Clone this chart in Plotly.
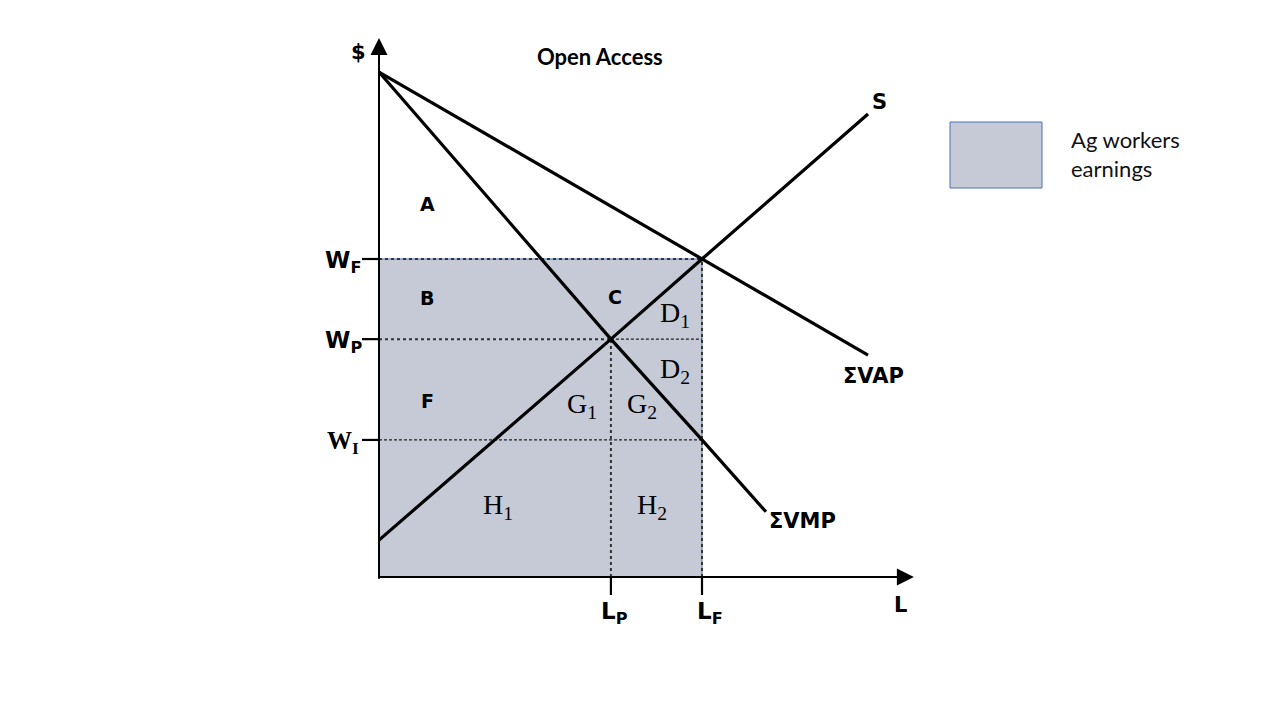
import plotly.graph_objects as go

# ---- data (economic units) ----
L_P, L_F = 7.18, 10.0
W_F, W_P, W_I = 10.0, 7.48, 4.31
X_AXIS_END, Y_AXIS_END = 16.56, 16.95

vap_x = [0.0, L_F, 15.14]
vap_y = [15.88, W_F, 6.98]
vmp_x = [0.0, L_P, L_F, 11.98]
vmp_y = [15.88, W_P, W_I, 2.05]
s_x = [0.0, L_P, L_F, 15.14]
s_y = [1.16, W_P, W_F, 14.56]

region_labels = ["A", "B", "C", "F"]
region_x = [1.49, 1.49, 7.31, 1.49]
region_y = [11.73, 8.77, 8.81, 5.53]

sub_labels = ["D<sub>1</sub>", "D<sub>2</sub>", "G<sub>1</sub>", "G<sub>2</sub>", "H<sub>1</sub>", "H<sub>2</sub>"]
sub_x = [9.16, 9.16, 6.28, 8.14, 3.68, 8.45]
sub_y = [8.24, 6.48, 5.38, 5.38, 2.23, 2.23]

curve_labels = ["S", "ΣVAP", "ΣVMP"]
curve_lx = [15.51, 15.32, 13.1]
curve_ly = [14.94, 6.32, 1.76]

legend_text = "Ag workers<br>earnings"
title_text = "Open Access"

# ---- figure ----
SX, SY = 32.3, 31.8   # px per unit
PAD = 8               # page body margin
OX, OY = 379 - PAD, 577 - PAD   # origin in figure px
fig = go.Figure()

FILL = "#c5cad6"
EDGE = "#4a74b5"

# shaded earnings rectangle
fig.add_shape(type="rect", x0=0, x1=L_F, y0=0, y1=W_F, fillcolor=FILL,
              line=dict(color=EDGE, width=1), layer="below")

def seg(xs, ys, width=3, dash="solid", color="black"):
    fig.add_trace(go.Scatter(x=xs, y=ys, mode="lines", hoverinfo="skip",
                             line=dict(color=color, width=width, dash=dash),
                             showlegend=False))

# guide lines
seg([0, L_F], [W_F, W_F], width=2, dash="dot", color="#333")
seg([0, L_P], [W_P, W_P], width=2, dash="dot", color="#333")
seg([L_P, L_F], [W_P, W_P], width=1.2, dash="3px,2px", color="#222")
seg([0, L_F], [W_I, W_I], width=1.2, dash="3px,2px", color="#222")
seg([L_P, L_P], [0, W_P], width=2, dash="dot", color="#333")
seg([L_F, L_F], [0, W_F], width=2, dash="dot", color="#333")

# curves
seg(vap_x, vap_y, width=3.2)
seg(vmp_x, vmp_y, width=3.2)
seg(s_x, s_y, width=3.2)

# ticks
TY = 17 / SX
TX = 18 / SY
for w in [W_F, W_P, W_I]:
    seg([-TY, 0], [w, w], width=2.2)
for l in [L_P, L_F]:
    seg([l, l], [-TX, 0], width=2.2)

# axes with arrows
fig.add_annotation(x=0, y=Y_AXIS_END, ax=0, ay=-0.1, xref="x", yref="y", axref="x", ayref="y",
                   showarrow=True, arrowhead=2, arrowsize=1.7, arrowwidth=2, arrowcolor="black", text="")
fig.add_annotation(x=X_AXIS_END, y=0, ax=-0.05, ay=0, xref="x", yref="y", axref="x", ayref="y",
                   showarrow=True, arrowhead=2, arrowsize=1.7, arrowwidth=2, arrowcolor="black", text="")

SANS = "Liberation Sans"
WIDE = "DejaVu Sans"
def txt(x, y, t, size=18, family=SANS, bold=True, xanchor="center"):
    fig.add_annotation(x=x, y=y, text=("<b>%s</b>" % t) if bold else t, showarrow=False,
                       xanchor=xanchor, yanchor="middle",
                       font=dict(family=family, size=size, color="black"))

for t, x, y in zip(region_labels, region_x, region_y):
    txt(x, y, t, size=19, family=WIDE)
for t, x, y in zip(sub_labels, sub_x, sub_y):
    txt(x, y, t, size=28, family="Liberation Serif", bold=False)
for t, x, y in zip(curve_labels, curve_lx, curve_ly):
    txt(x, y, t, size=21, family=WIDE)

txt(-0.65, 16.51, "$", size=21, family=WIDE)
txt(16.13, -0.88, "L", size=21, family=WIDE)
txt(L_P + 0.1, -1.12, "L<sub>P</sub>", size=23, family=WIDE)
txt(L_F + 0.25, -1.12, "L<sub>F</sub>", size=23, family=WIDE)
txt(-1.11, W_F - 0.1, "W<sub>F</sub>", size=23, family=WIDE)
txt(-1.11, W_P - 0.1, "W<sub>P</sub>", size=23, family=WIDE)
txt(-1.11, W_I - 0.08, "W<sub>I</sub>", size=25, family="Liberation Serif")

txt(6.84, 16.38, title_text, size=22, family="Lato")

# legend box (paper coords, corrected for page margin)
fig.add_shape(type="rect", xref="paper", yref="paper",
              x0=(950 - PAD)/1280, x1=(1042 - PAD)/1280, y0=1-(188 - PAD)/720, y1=1-(122 - PAD)/720,
              fillcolor=FILL, line=dict(color=EDGE, width=1))
fig.add_annotation(xref="paper", yref="paper", x=(1069 - PAD)/1280, y=1-(154 - PAD)/720, text=legend_text,
                   showarrow=False, xanchor="left", yanchor="middle", align="left",
                   font=dict(family="Lato", size=22, color="#111"))

fig.update_layout(
    width=1280, height=720, margin=dict(l=0, r=0, t=0, b=0),
    paper_bgcolor="white", plot_bgcolor="white",
    xaxis=dict(range=[-OX / SX, (1280 - OX) / SX], visible=False, fixedrange=True),
    yaxis=dict(range=[-(720 - OY) / SY, OY / SY], visible=False, fixedrange=True),
    showlegend=False,
)

fig.write_html("out.html")
